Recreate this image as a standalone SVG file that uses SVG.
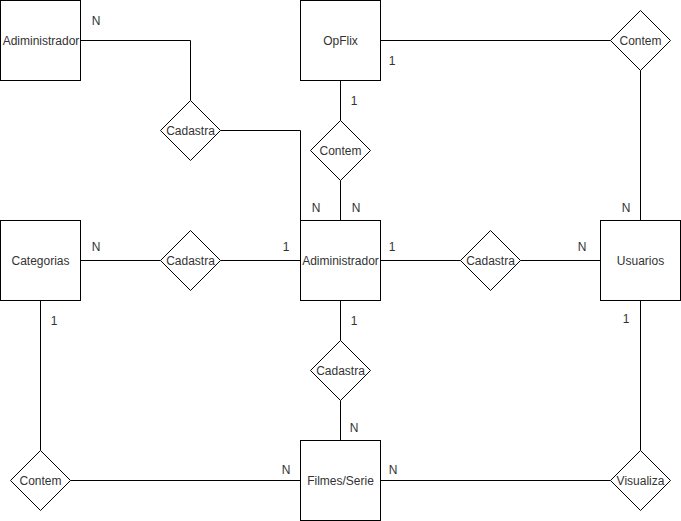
<svg xmlns="http://www.w3.org/2000/svg" width="681" height="521" viewBox="0 0 681 521">
  <style>
    .ent { fill: #ffffff; stroke: #000000; stroke-width: 1; }
    .rel { fill: #ffffff; stroke: #000000; stroke-width: 1; }
    .edge { fill: none; stroke: #000000; stroke-width: 1; }
    text { font-family: "Liberation Sans", Arial, Helvetica, sans-serif; font-size: 12px; fill: #333333; }
    .c { text-anchor: middle; }
  </style>
  <rect width="681" height="521" fill="#ffffff"/>

  <!-- connectors -->
  <g id="connectors" transform="translate(0.5,0.5)">
    <polyline class="edge" points="80,40 190,40 190,100"/>
    <polyline class="edge" points="220,130 300,130 300,220"/>
    <line class="edge" x1="380" y1="40" x2="610" y2="40"/>
    <line class="edge" x1="640" y1="70" x2="640" y2="220"/>
    <line class="edge" x1="340" y1="80" x2="340" y2="120"/>
    <line class="edge" x1="340" y1="180" x2="340" y2="220"/>
    <line class="edge" x1="80" y1="260" x2="160" y2="260"/>
    <line class="edge" x1="220" y1="260" x2="300" y2="260"/>
    <line class="edge" x1="380" y1="260" x2="460" y2="260"/>
    <line class="edge" x1="520" y1="260" x2="600" y2="260"/>
    <line class="edge" x1="40" y1="300" x2="40" y2="450"/>
    <line class="edge" x1="70" y1="480" x2="300" y2="480"/>
    <line class="edge" x1="340" y1="300" x2="340" y2="340"/>
    <line class="edge" x1="340" y1="400" x2="340" y2="440"/>
    <line class="edge" x1="380" y1="480" x2="610" y2="480"/>
    <line class="edge" x1="640" y1="300" x2="640" y2="450"/>
  </g>

  <!-- cardinality labels -->
  <g id="labels">
    <text class="c" x="96" y="25">N</text>
    <text class="c" x="392" y="65">1</text>
    <text class="c" x="354" y="105">1</text>
    <text class="c" x="316" y="212">N</text>
    <text class="c" x="356" y="212">N</text>
    <text class="c" x="626" y="212">N</text>
    <text class="c" x="96" y="251">N</text>
    <text class="c" x="286" y="251">1</text>
    <text class="c" x="392" y="251">1</text>
    <text class="c" x="582" y="251">N</text>
    <text class="c" x="54" y="325">1</text>
    <text class="c" x="354" y="325">1</text>
    <text class="c" x="626" y="323">1</text>
    <text class="c" x="354" y="432">N</text>
    <text class="c" x="286" y="474">N</text>
    <text class="c" x="393" y="474">N</text>
  </g>

  <!-- entities -->
  <g id="adm-top">
    <rect class="ent" x="0.5" y="0.5" width="80" height="80"/>
    <text class="c" x="41" y="45">Adiministrador</text>
  </g>
  <g id="opflix">
    <rect class="ent" x="300.5" y="0.5" width="80" height="80"/>
    <text class="c" x="340.5" y="45">OpFlix</text>
  </g>
  <g id="categorias">
    <rect class="ent" x="0.5" y="220.5" width="80" height="80"/>
    <text class="c" x="40.5" y="265">Categorias</text>
  </g>
  <g id="adm-center">
    <rect class="ent" x="300.5" y="220.5" width="80" height="80"/>
    <text class="c" x="340.5" y="265">Adiministrador</text>
  </g>
  <g id="usuarios">
    <rect class="ent" x="600.5" y="220.5" width="80" height="80"/>
    <text class="c" x="640.5" y="265">Usuarios</text>
  </g>
  <g id="filmes">
    <rect class="ent" x="300.5" y="440.5" width="80" height="80"/>
    <text class="c" x="340.5" y="485">Filmes/Serie</text>
  </g>

  <!-- relationships -->
  <g id="rel-cadastra-adm">
    <polygon class="rel" points="190.5,100.5 220.5,130.5 190.5,160.5 160.5,130.5"/>
    <text class="c" x="190.5" y="135">Cadastra</text>
  </g>
  <g id="rel-contem-opflix-adm">
    <polygon class="rel" points="340.5,120.5 370.5,150.5 340.5,180.5 310.5,150.5"/>
    <text class="c" x="340.5" y="155">Contem</text>
  </g>
  <g id="rel-contem-opflix-usu">
    <polygon class="rel" points="640.5,10.5 670.5,40.5 640.5,70.5 610.5,40.5"/>
    <text class="c" x="640.5" y="45">Contem</text>
  </g>
  <g id="rel-cadastra-cat">
    <polygon class="rel" points="190.5,230.5 220.5,260.5 190.5,290.5 160.5,260.5"/>
    <text class="c" x="190.5" y="265">Cadastra</text>
  </g>
  <g id="rel-cadastra-usu">
    <polygon class="rel" points="490.5,230.5 520.5,260.5 490.5,290.5 460.5,260.5"/>
    <text class="c" x="490.5" y="265">Cadastra</text>
  </g>
  <g id="rel-cadastra-filmes">
    <polygon class="rel" points="340.5,340.5 370.5,370.5 340.5,400.5 310.5,370.5"/>
    <text class="c" x="340.5" y="375">Cadastra</text>
  </g>
  <g id="rel-contem-cat-filmes">
    <polygon class="rel" points="40.5,450.5 70.5,480.5 40.5,510.5 10.5,480.5"/>
    <text class="c" x="40.5" y="485">Contem</text>
  </g>
  <g id="rel-visualiza">
    <polygon class="rel" points="640.5,450.5 670.5,480.5 640.5,510.5 610.5,480.5"/>
    <text class="c" x="640.5" y="485">Visualiza</text>
  </g>
</svg>
